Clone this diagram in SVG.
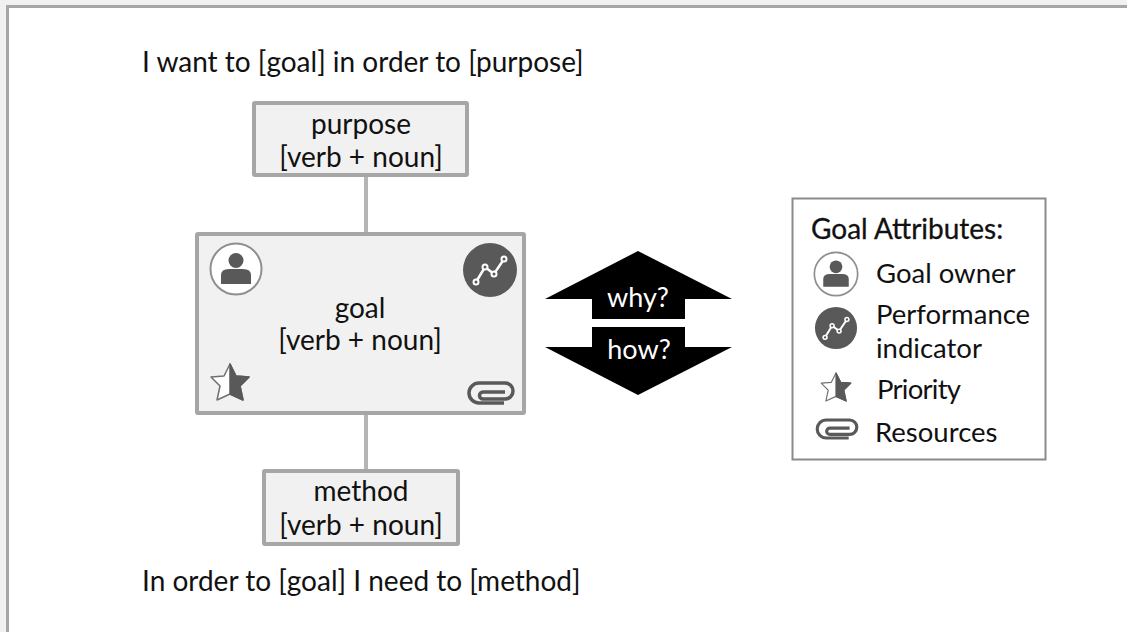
<svg xmlns="http://www.w3.org/2000/svg" width="1127" height="632" viewBox="0 0 1127 632">
<style>
text{font-family:"Lato","Liberation Sans",sans-serif;font-size:28px;fill:#111}
.c{text-anchor:middle}
.box{fill:#f1f1f1;stroke:#a6a6a6;stroke-width:4}
.w{fill:#fff;font-size:27px}
.l{font-size:27.500px}
.conn{stroke:#b5b5b5;stroke-width:4;fill:none}
</style>
<defs>
<g id="owner"><circle r="25.500" fill="#fff" stroke="#8f8f8f" stroke-width="2"/><circle cy="-8.500" r="7.500" fill="#595959"/><path d="M-15 15V6Q-15 0-7 0H7Q15 0 15 6V15Z" fill="#595959"/></g>
<g id="perf"><circle r="27" fill="#595959"/><path d="M-14 12L-5-3L4 4L14-11" fill="none" stroke="#fff" stroke-width="2.500"/><g fill="#595959" stroke="#fff" stroke-width="2"><circle cx="-14" cy="12" r="2.500"/><circle cx="-5" cy="-3" r="2.500"/><circle cx="4" cy="4" r="2.500"/><circle cx="14" cy="-11" r="2.500"/></g></g>
<g id="star"><path d="M0-18L6-6L19-5L10 4L13 18L0 12L-13 18L-10 4L-19-5L-6-6Z" fill="#fff" stroke="#707070" stroke-width="1.500" stroke-linejoin="round"/><path d="M0-18L6-6L19-5L10 4L13 18L0 12Z" fill="#595959" stroke="#595959" stroke-width="1.500" stroke-linejoin="round"/></g>
<g id="clip"><path d="M13 10H-12A10 10 0 0 1-12-10H14A8 8 0 0 1 14 6H-8A3.500 3.500 0 0 1-8-1H14" fill="none" stroke="#595959" stroke-width="3.500"/></g>
</defs>
<rect width="1127" height="632" fill="#f1f1f1"/>
<rect x="7.500" y="6.500" width="1130" height="640" fill="#fff" stroke="#a6a6a6" stroke-width="3"/>
<text x="142" y="72">I want to [goal] in order to [purpose]</text>
<text x="142" y="591">In order to [goal] I need to [method]</text>
<g id="connectors">
<line class="conn" x1="366" y1="177" x2="366" y2="232"/>
<line class="conn" x1="366" y1="415" x2="366" y2="469"/>
</g>
<g id="purpose"><rect class="box" x="254" y="103" width="213" height="72" rx="1"/><text class="c" x="361" y="134">purpose</text><text class="c" x="361" y="167">[verb + noun]</text></g>
<g id="goal"><rect class="box" x="197" y="234" width="327" height="179" rx="1"/>
<use href="#owner" x="236" y="269"/><use href="#perf" x="490" y="270"/><use href="#star" x="230" y="382"/><use href="#clip" x="491" y="393"/>
<text class="c" x="360" y="318">goal</text><text class="c" x="360" y="350">[verb + noun]</text></g>
<g id="method"><rect class="box" x="264" y="471" width="194" height="73" rx="1"/><text class="c" x="361" y="501">method</text><text class="c" x="361" y="535">[verb + noun]</text></g>
<g id="why"><path d="M638 251L732 299H685V319H592V299H545Z" fill="#000"/><text class="c w" x="638" y="307" style="fill:#fff">why?</text></g>
<g id="how"><path d="M592 327H685V347H732L638 395L545 347H592Z" fill="#000"/><text class="c w" x="639" y="359" style="fill:#fff">how?</text></g>
<g id="legend"><rect x="792.500" y="198.500" width="253" height="261" fill="#fff" stroke="#8a8a8a" stroke-width="2"/>
<text x="811" y="239" stroke="#111" stroke-width=".3">Goal Attributes:</text>
<use href="#owner" transform="translate(836 274) scale(.85)"/><text class="l" x="876" y="283">Goal owner</text>
<use href="#perf" transform="translate(836 328) scale(.78)"/><text class="l" x="876" y="324">Performance</text><text class="l" x="876" y="358">indicator</text>
<use href="#star" transform="translate(836 387) scale(.78)"/><text class="l" x="877" y="399" textLength="84">Priority</text>
<use href="#clip" transform="translate(837 429) scale(.9)"/><text class="l" x="875" y="442">Resources</text></g>
</svg>
